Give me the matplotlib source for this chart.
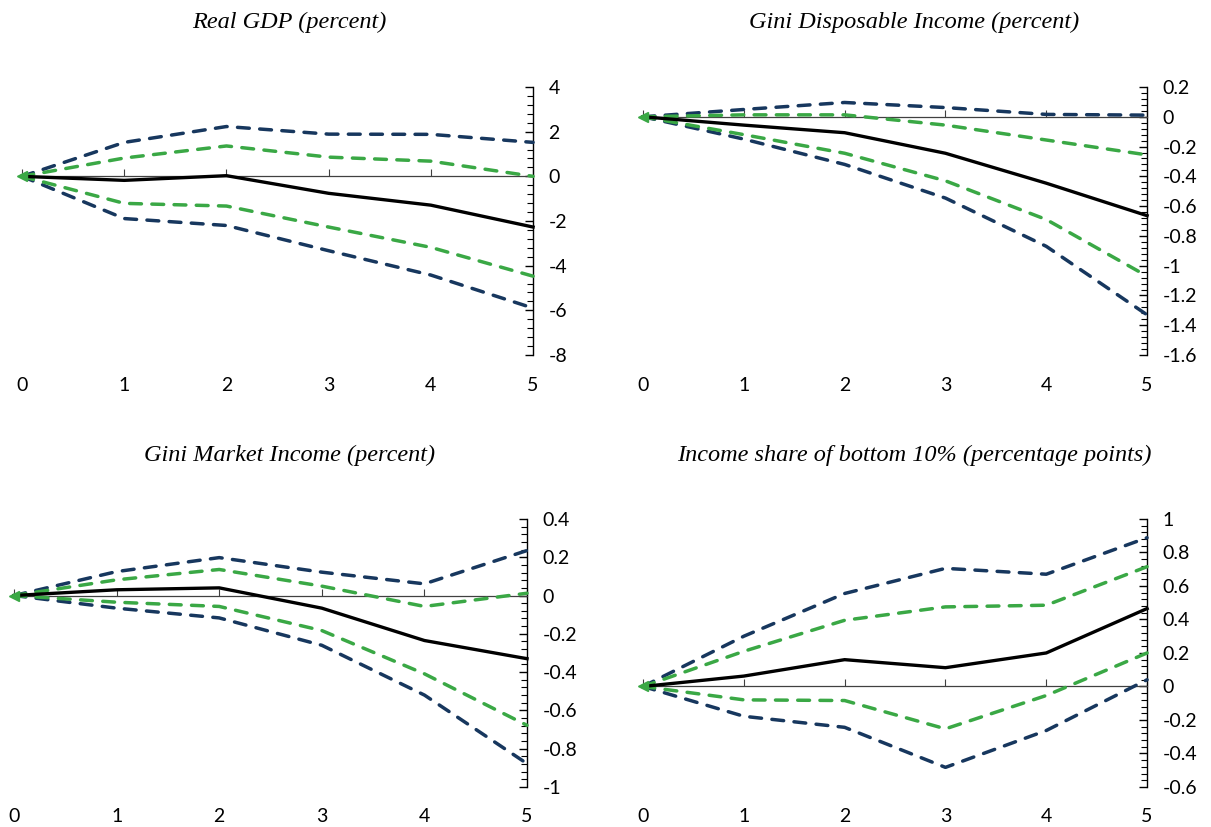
"""Impulse responses with confidence bands, four panels."""

import matplotlib
matplotlib.use("Agg")
import matplotlib.pyplot as plt
from matplotlib.ticker import MultipleLocator, FixedLocator
from matplotlib.transforms import blended_transform_factory

horizon = [0, 1, 2, 3, 4, 5]

titles = [
    "Real GDP (percent)",
    "Gini Disposable Income (percent)",
    "Gini Market Income (percent)",
    "Income share of bottom 10% (percentage points)",
]

# point estimate, 68% band (green), 90% band (blue)
gdp_mid = [0, -0.18, 0.03, -0.76, -1.29, -2.27]
gdp_hi90 = [0, 1.52, 2.23, 1.89, 1.88, 1.52]
gdp_hi68 = [0, 0.82, 1.36, 0.86, 0.68, 0.0]
gdp_lo68 = [0, -1.21, -1.33, -2.27, -3.18, -4.47]
gdp_lo90 = [0, -1.89, -2.2, -3.33, -4.42, -5.9]

gdisp_mid = [0, -0.056, -0.107, -0.245, -0.446, -0.664]
gdisp_hi90 = [0, 0.049, 0.096, 0.062, 0.016, 0.011]
gdisp_hi68 = [0, 0.013, 0.013, -0.056, -0.156, -0.256]
gdisp_lo68 = [0, -0.12, -0.245, -0.43, -0.69, -1.07]
gdisp_lo90 = [0, -0.15, -0.32, -0.546, -0.87, -1.33]

gmkt_mid = [0, 0.03, 0.04, -0.066, -0.235, -0.33]
gmkt_hi90 = [0, 0.125, 0.198, 0.122, 0.061, 0.235]
gmkt_hi68 = [0, 0.082, 0.136, 0.049, -0.057, 0.012]
gmkt_lo68 = [0, -0.035, -0.057, -0.183, -0.409, -0.678]
gmkt_lo90 = [0, -0.066, -0.117, -0.26, -0.52, -0.878]

b10_mid = [0, 0.062, 0.16, 0.112, 0.2, 0.465]
b10_hi90 = [0, 0.3, 0.555, 0.705, 0.67, 0.888]
b10_hi68 = [0, 0.21, 0.395, 0.475, 0.485, 0.715]
b10_lo68 = [0, -0.08, -0.084, -0.253, -0.054, 0.2]
b10_lo90 = [0, -0.178, -0.244, -0.483, -0.263, 0.04]

panels = [
    (gdp_mid, gdp_hi90, gdp_hi68, gdp_lo68, gdp_lo90),
    (gdisp_mid, gdisp_hi90, gdisp_hi68, gdisp_lo68, gdisp_lo90),
    (gmkt_mid, gmkt_hi90, gmkt_hi68, gmkt_lo68, gmkt_lo90),
    (b10_mid, b10_hi90, b10_hi68, b10_lo68, b10_lo90),
]

y_ranges = [(-8, 4, 2, 0.4), (-1.6, 0.2, 0.2, 0.04), (-1, 0.4, 0.2, 0.04), (-0.6, 1, 0.2, 0.04)]

# axes boxes in figure fractions: left, bottom, width, height
boxes = [
    (0.0182, 0.5707, 0.4220, 0.3241),
    (0.5310, 0.5707, 0.4162, 0.3241),
    (0.0116, 0.0484, 0.4236, 0.3241),
    (0.5310, 0.0484, 0.4162, 0.3241),
]
title_pos = [(0.2386, 0.973), (0.7547, 0.973), (0.2395, 0.4498), (0.7547, 0.4498)]

BLUE = "#17375E"
GREEN = "#3AA845"
TICK_FONT = ["Lato", "DejaVu Sans"]
TICK_SIZE = 14

fig = plt.figure(figsize=(12.11, 8.27), dpi=100)

for i, (series, (ymin, ymax, major, minor)) in enumerate(zip(panels, y_ranges)):
    mid, hi90, hi68, lo68, lo90 = series
    ax = fig.add_axes(boxes[i])

    for vals in (hi90, lo90):
        ax.plot(horizon, vals, color=BLUE, lw=2.5, dashes=(3.4, 3.0),
                dash_capstyle="round", clip_on=False, zorder=3)
    for vals in (hi68, lo68):
        ax.plot(horizon, vals, color=GREEN, lw=2.5, dashes=(3.4, 3.0),
                dash_capstyle="round", clip_on=False, zorder=4)
    ax.plot(horizon, mid, color="black", lw=2.4, clip_on=False, zorder=5)
    ax.plot([horizon[0]], [mid[0]], marker="<", color=GREEN, ms=7,
            clip_on=False, zorder=6)

    ax.set_xlim(0, 5)
    ax.set_ylim(ymin, ymax)

    for side in ("top", "left"):
        ax.spines[side].set_visible(False)
    ax.spines["bottom"].set_position(("data", 0))
    ax.spines["bottom"].set_color("#404040")
    ax.spines["bottom"].set_linewidth(0.9)
    ax.spines["right"].set_color("black")
    ax.spines["right"].set_linewidth(1.0)

    ax.xaxis.set_major_locator(FixedLocator(horizon))
    ax.tick_params(axis="x", direction="in", length=5, width=0.8,
                   color="#404040", labelbottom=False)
    ax.yaxis.tick_right()
    ax.yaxis.set_major_locator(MultipleLocator(major))
    ax.yaxis.set_minor_locator(MultipleLocator(minor))
    ax.tick_params(axis="y", which="major", direction="in", length=6,
                   width=1.0, pad=11)
    ax.tick_params(axis="y", which="minor", direction="in", length=4, width=0.8)
    ticks = [round(t, 6) for t in ax.get_yticks() if ymin - 1e-9 <= t <= ymax + 1e-9]
    ax.set_yticks(ticks)
    ax.set_yticklabels([f"{t:g}" for t in ticks], family=TICK_FONT, fontsize=TICK_SIZE)

    trans = blended_transform_factory(ax.transData, ax.transAxes)
    for h in horizon:
        ax.text(h, -0.112, str(h), transform=trans, ha="center", va="center",
                fontsize=TICK_SIZE, family=TICK_FONT)

    fig.text(title_pos[i][0], title_pos[i][1], titles[i], ha="center", va="center",
             fontsize=17.5, style="italic", family=["Liberation Serif", "DejaVu Serif"])

fig.savefig("out.png", dpi=100)
